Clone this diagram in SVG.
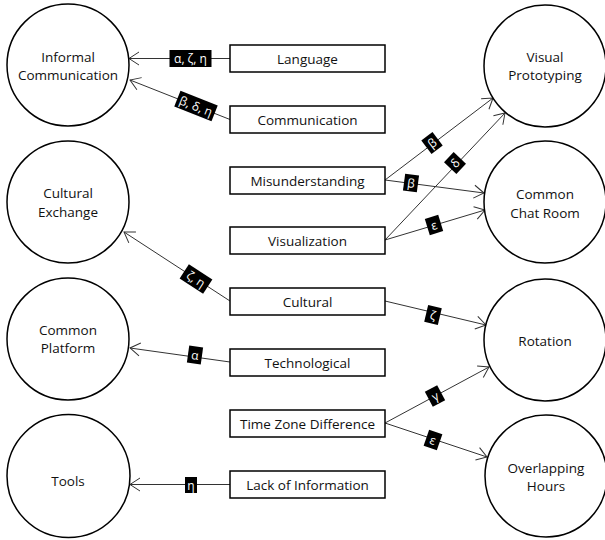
<svg xmlns="http://www.w3.org/2000/svg" width="605" height="540" viewBox="0 0 605 540">
<style>
.node circle{fill:#fff;stroke:#000;stroke-width:1.5}
.node rect{fill:#fff;stroke:#000;stroke-width:1.5}
.node text{font-family:"Open Sans","Liberation Sans",sans-serif;font-size:13.5px;fill:#111;text-anchor:middle;dominant-baseline:central}
.edge line{stroke:#333;stroke-width:1;marker-end:url(#arr)}
.lbl rect{fill:#000}
.lbl text{font-family:"Open Sans","DejaVu Sans",sans-serif;font-size:12px;fill:#fff;text-anchor:middle;dominant-baseline:central}
</style>
<defs>
<marker id="arr" markerUnits="userSpaceOnUse" markerWidth="14" markerHeight="16" viewBox="-12 -8 14 16" refX="0" refY="0" orient="auto">
<path d="M-10,-6.5 L0,0 L-10,6.5" fill="none" stroke="#333" stroke-width="1"/>
</marker>
</defs>
<rect width="605" height="540" fill="#fff"/>

<g id="connectors">
<g class="edge"><line x1="230" y1="58.5" x2="129" y2="58.5"/></g>
<g class="edge"><line x1="230" y1="119.5" x2="130" y2="80"/></g>
<g class="edge"><line x1="385" y1="180" x2="493" y2="98"/></g>
<g class="edge"><line x1="385" y1="240" x2="505" y2="113"/></g>
<g class="edge"><line x1="385" y1="180" x2="484" y2="193"/></g>
<g class="edge"><line x1="385" y1="240" x2="485" y2="210"/></g>
<g class="edge"><line x1="230" y1="301" x2="124" y2="232"/></g>
<g class="edge"><line x1="385" y1="301" x2="486" y2="325"/></g>
<g class="edge"><line x1="230" y1="362" x2="130" y2="348"/></g>
<g class="edge"><line x1="385" y1="423" x2="489" y2="367"/></g>
<g class="edge"><line x1="385" y1="423" x2="487" y2="457"/></g>
<g class="edge"><line x1="230" y1="484.5" x2="130" y2="484.5"/></g>

<g class="lbl" transform="translate(190.5,58.5)"><rect x="-21" y="-8.5" width="42" height="17"/><text>α, ζ, η</text></g>
<g class="lbl" transform="translate(196,106) rotate(21.5)"><rect x="-20" y="-8.5" width="40" height="17"/><text>β, δ, η</text></g>
<g class="lbl" transform="translate(432,143) rotate(-37)"><rect x="-7" y="-8.5" width="14" height="17"/><text>β</text></g>
<g class="lbl" transform="translate(455,163) rotate(-46.6)"><rect x="-7" y="-8.5" width="14" height="17"/><text>δ</text></g>
<g class="lbl" transform="translate(411,183) rotate(7.5)"><rect x="-7" y="-8.5" width="14" height="17"/><text>β</text></g>
<g class="lbl" transform="translate(434,225) rotate(-17)"><rect x="-7" y="-8.5" width="14" height="17"/><text>ε</text></g>
<g class="lbl" transform="translate(196,279) rotate(33)"><rect x="-14" y="-8.5" width="28" height="17"/><text>ζ, η</text></g>
<g class="lbl" transform="translate(433,315) rotate(13.4)"><rect x="-7" y="-8.5" width="14" height="17"/><text>ζ</text></g>
<g class="lbl" transform="translate(195,355) rotate(8)"><rect x="-7" y="-8.5" width="14" height="17"/><text>α</text></g>
<g class="lbl" transform="translate(435,396) rotate(-28)"><rect x="-7" y="-8.5" width="14" height="17"/><text>γ</text></g>
<g class="lbl" transform="translate(433,440) rotate(19)"><rect x="-7" y="-8.5" width="14" height="17"/><text>ε</text></g>
<g class="lbl" transform="translate(191,485)"><rect x="-6" y="-8" width="12" height="16"/><text>η</text></g>
</g>

<g id="informal-communication" class="node"><circle cx="68" cy="65" r="61"/><text x="68" y="57">Informal</text><text x="68" y="75">Communication</text></g>
<g id="cultural-exchange" class="node"><circle cx="68" cy="202" r="61"/><text x="68" y="193">Cultural</text><text x="68" y="212">Exchange</text></g>
<g id="common-platform" class="node"><circle cx="68" cy="339" r="61"/><text x="68" y="330">Common</text><text x="68" y="348">Platform</text></g>
<g id="tools" class="node"><circle cx="68.5" cy="476" r="61.5"/><text x="68" y="481">Tools</text></g>

<g id="visual-prototyping" class="node"><circle cx="545" cy="66" r="61"/><text x="545" y="57">Visual</text><text x="545" y="75">Prototyping</text></g>
<g id="common-chat-room" class="node"><circle cx="545" cy="202" r="61"/><text x="545" y="194">Common</text><text x="545" y="213">Chat Room</text></g>
<g id="rotation" class="node"><circle cx="545" cy="340" r="61"/><text x="545" y="341">Rotation</text></g>
<g id="overlapping-hours" class="node"><circle cx="546" cy="476" r="61"/><text x="546" y="468">Overlapping</text><text x="546" y="486">Hours</text></g>

<g id="language" class="node"><rect x="230" y="45" width="155" height="27"/><text x="307.5" y="58.5">Language</text></g>
<g id="communication" class="node"><rect x="230" y="106" width="155" height="27"/><text x="307.5" y="119.5">Communication</text></g>
<g id="misunderstanding" class="node"><rect x="230" y="167" width="155" height="27"/><text x="307.5" y="180.5">Misunderstanding</text></g>
<g id="visualization" class="node"><rect x="230" y="227" width="155" height="27"/><text x="307.5" y="240.5">Visualization</text></g>
<g id="cultural" class="node"><rect x="230" y="288" width="155" height="27"/><text x="307.5" y="301.5">Cultural</text></g>
<g id="technological" class="node"><rect x="230" y="349" width="155" height="27"/><text x="307.5" y="362.5">Technological</text></g>
<g id="time-zone-difference" class="node"><rect x="230" y="410" width="155" height="27"/><text x="307.5" y="423.5">Time Zone Difference</text></g>
<g id="lack-of-information" class="node"><rect x="230" y="471" width="155" height="27"/><text x="307.5" y="484.5">Lack of Information</text></g>
</svg>
